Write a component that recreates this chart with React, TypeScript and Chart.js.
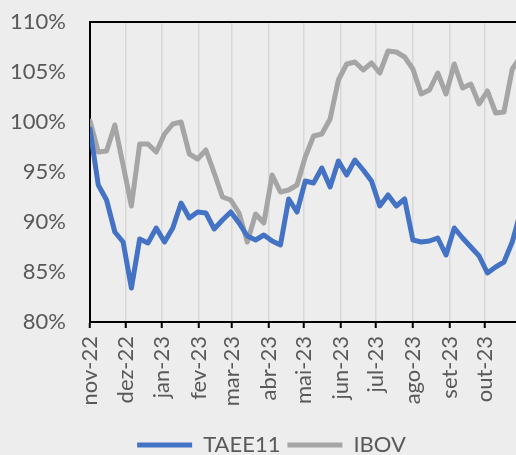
import React, { useEffect, useRef } from 'react';
import { Chart, registerables } from 'chart.js';
Chart.register(...registerables);

// Weekly observations starting 2022-11-01 (x = days since start)
const monthTickDays = [0, 30, 61, 92, 120, 151, 181, 212, 242, 273, 304, 334];
const monthLabels = ['nov-22', 'dez-22', 'jan-23', 'fev-23', 'mar-23', 'abr-23', 'mai-23', 'jun-23', 'jul-23', 'ago-23', 'set-23', 'out-23'];

const taee11 = [
  99.3, 93.7, 92.2, 89.0, 88.0, 83.4, 88.3, 87.9, 89.4, 88.0,
  89.4, 91.9, 90.4, 91.0, 90.9, 89.3, 90.2, 91.0, 89.9, 88.6,
  88.2, 88.7, 88.1, 87.7, 92.3, 91.0, 94.1, 93.9, 95.4, 93.5,
  96.1, 94.7, 96.2, 95.2, 94.1, 91.6, 92.7, 91.6, 92.3, 88.2,
  88.0, 88.1, 88.4, 86.7, 89.4, 88.4, 87.5, 86.6, 84.9, 85.5,
  86.0, 88.0, 91.0,
];
const ibov = [
  100.1, 97.0, 97.1, 99.7, 95.7, 91.6, 97.8, 97.8, 97.0, 98.8,
  99.8, 100.0, 96.8, 96.3, 97.2, 94.9, 92.5, 92.2, 90.9, 88.0,
  90.8, 89.9, 94.7, 93.0, 93.2, 93.7, 96.5, 98.6, 98.8, 100.3,
  104.2, 105.8, 106.0, 105.2, 105.9, 104.9, 107.1, 107.0, 106.5, 105.3,
  102.8, 103.2, 104.9, 102.8, 105.8, 103.4, 103.8, 101.8, 103.1, 100.9,
  101.0, 105.3, 106.5,
];
const yTicks = [80, 85, 90, 95, 100, 105, 110];
const weekDays = taee11.map((_, i) => i * 7);

const FONT = { family: 'Lato, "Noto Sans", sans-serif', size: 22 };
const TEXT = '#595959';

const topBorder = {
  id: 'topBorder',
  afterDraw(chart: any) {
    const { ctx, chartArea } = chart;
    ctx.save();
    ctx.strokeStyle = '#000';
    ctx.lineWidth = 2;
    ctx.beginPath();
    ctx.moveTo(chartArea.left - 1, chartArea.top);
    ctx.lineTo(chartArea.right, chartArea.top);
    ctx.stroke();
    ctx.restore();
  },
};

export default function App() {
  const ref = useRef<HTMLCanvasElement | null>(null);
  useEffect(() => {
    if (!ref.current) return;
    const chart = new Chart(ref.current, {
      type: 'line',
      data: {
        datasets: [
          {
            label: 'TAEE11',
            data: weekDays.map((d, i) => ({ x: d, y: taee11[i] })),
            borderColor: '#4472C4',
            backgroundColor: '#4472C4',
            borderWidth: 5,
            pointRadius: 0,
            tension: 0,
            borderJoinStyle: 'round',
            borderCapStyle: 'round',
          },
          {
            label: 'IBOV',
            data: weekDays.map((d, i) => ({ x: d, y: ibov[i] })),
            borderColor: '#A5A5A5',
            backgroundColor: '#A5A5A5',
            borderWidth: 5,
            pointRadius: 0,
            tension: 0,
            borderJoinStyle: 'round',
            borderCapStyle: 'round',
          },
        ],
      },
      options: {
        animation: false,
        responsive: false,
        layout: { padding: { top: 22, right: 10, left: 0, bottom: 2 } },
        plugins: {
          tooltip: { enabled: false },
          legend: {
            position: 'bottom',
            labels: {
              boxWidth: 55,
              boxHeight: 5,
              padding: 7,
              color: TEXT,
              font: FONT,
              generateLabels: (c: any) =>
                Chart.defaults.plugins.legend.labels.generateLabels(c).map((l: any) => ({
                  ...l,
                  lineWidth: 0,
                  fillStyle: l.strokeStyle,
                })),
            },
          },
        },
        scales: {
          x: {
            type: 'linear',
            min: 0,
            max: 383.0,
            afterBuildTicks: (s: any) => {
              s.ticks = monthTickDays.map((v) => ({ value: v }));
            },
            afterFit: (s: any) => {
              s.height = 105;
            },
            ticks: {
              autoSkip: false,
              maxRotation: 90,
              minRotation: 90,
              padding: 8,
              color: TEXT,
              font: FONT,
              callback: (_v: any, i: number) => monthLabels[i],
            },
            grid: {
              color: '#d8d8d8',
              lineWidth: 1.5,
              tickColor: '#000',
              tickLength: 6,
              tickWidth: 2,
            },
            border: { color: '#000', width: 2 },
          },
          y: {
            min: 80,
            max: 110,
            afterBuildTicks: (s: any) => {
              s.ticks = yTicks.map((v) => ({ value: v }));
            },
            afterFit: (s: any) => {
              s.width = 90;
            },
            ticks: {
              padding: 0,
              color: TEXT,
              font: FONT,
              callback: (v: any) => v + '%',
            },
            grid: {
              display: true,
              color: 'rgba(0,0,0,0)',
              drawTicks: true,
              tickLength: 24,
              tickColor: 'rgba(0,0,0,0)',
            },
            border: { color: '#000', width: 2 },
          },
        },
      },
      plugins: [topBorder],
    } as any);
    return () => chart.destroy();
  }, []);
  return (
    <div
      style={{
        position: 'fixed',
        left: 0,
        top: 0,
        width: 516,
        height: 455,
        overflow: 'hidden',
        background: '#ededed',
      }}
    >
      <canvas ref={ref} width={553} height={468} style={{ display: 'block' }} />
    </div>
  );
}
